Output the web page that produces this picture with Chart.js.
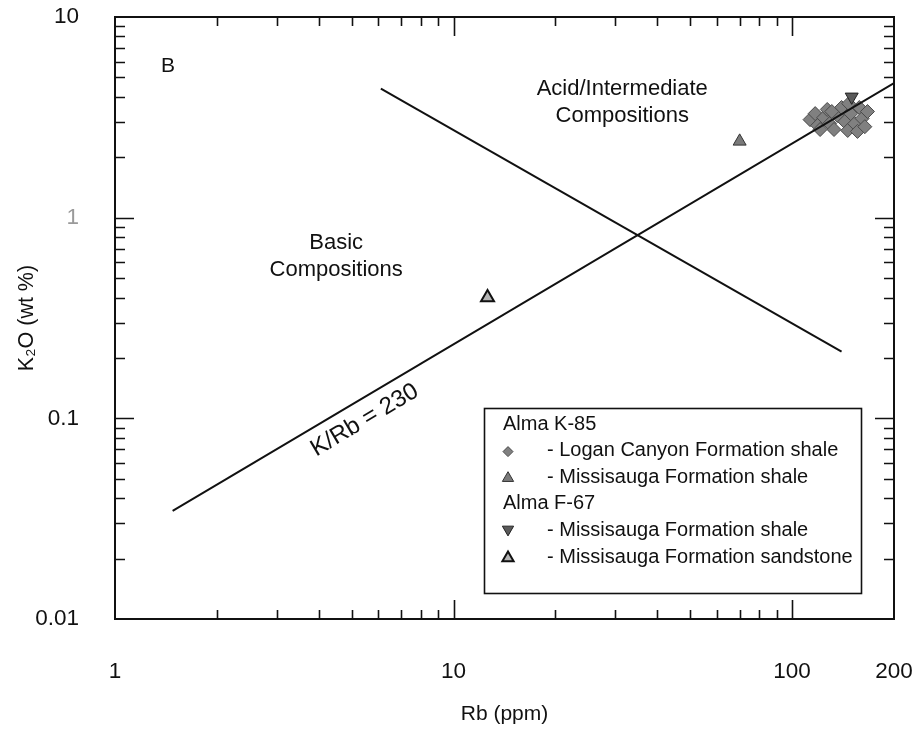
<!DOCTYPE html>
<html>
<head>
<meta charset="utf-8">
<title>K2O vs Rb</title>
<script src="https://cdn.jsdelivr.net/npm/chart.js@4.4.1/dist/chart.umd.min.js"></script>
<style>
  html, body { margin: 0; padding: 0; background: #fff; }
  #wrap { width: 919px; height: 739px; }
</style>
</head>
<body>
<div id="wrap"><canvas id="c" width="919" height="739"></canvas></div>
<script>
// Axis tick labels
const rbTickValues = [1, 10, 100, 200];
const rbTickLabels = ['1', '10', '100', '200'];
const k2oTickValues = [0.01, 0.1, 1, 10];
const k2oTickLabels = ['0.01', '0.1', '1', '10'];

// Alma K-85: Logan Canyon Formation shale
const loganRb  = [113, 117, 119, 124, 127, 129, 133, 136, 140, 143, 146, 149, 153, 156, 158, 161, 164, 167, 147, 131, 121];
const loganK2O = [3.08, 3.30, 2.88, 3.15, 3.46, 2.94, 2.75, 3.23, 3.54, 3.01, 2.72, 3.30, 2.94, 2.69, 3.54, 3.12, 2.84, 3.38, 3.70, 3.38, 2.75];
// Alma K-85: Missisauga Formation shale
const k85ShaleRb  = [70];
const k85ShaleK2O = [2.4];
// Alma F-67: Missisauga Formation shale
const f67ShaleRb  = [150];
const f67ShaleK2O = [4.0];
// Alma F-67: Missisauga Formation sandstone
const f67SandRb  = [12.6];
const f67SandK2O = [0.40];

// Reference lines
const kRbLineRb  = [1.48, 200];
const kRbLineK2O = [0.0346, 4.68];
const dividerRb  = [6.1, 140];
const dividerK2O = [4.4, 0.215];

const toPoints = (xs, ys) => xs.map((x, i) => ({ x: x, y: ys[i] }));

function decadeTicks(min, max) {
  const out = [];
  for (let e = Math.floor(Math.log10(min)); e <= Math.ceil(Math.log10(max)); e++) {
    for (let m = 1; m <= 9; m++) {
      const v = parseFloat((m * Math.pow(10, e)).toPrecision(6));
      if (v >= min * 0.9999 && v <= max * 1.0001) out.push(v);
    }
  }
  return out;
}
const sameVal = (a, b) => Math.abs(Math.log10(a) - Math.log10(b)) < 1e-6;
const isDecade = v => Math.abs(Math.log10(v) - Math.round(Math.log10(v))) < 1e-6;

const FONT = "'Liberation Sans', Arial, Helvetica, sans-serif";
const INK = '#111';

const markerStyles = {
  logan:    { pointStyle: 'rectRot',  rotation: 0,   fill: '#808080', stroke: '#4a4a4a', lw: 1 },
  k85Shale: { pointStyle: 'triangle', rotation: 0,   fill: '#7a7a7a', stroke: '#333',    lw: 1 },
  f67Shale: { pointStyle: 'triangle', rotation: 180, fill: '#5a5a5a', stroke: '#222',    lw: 1 },
  f67Sand:  { pointStyle: 'triangle', rotation: 0,   fill: '#b5b5b5', stroke: '#111',    lw: 2 }
};

// Frame, inward tick marks, text labels and the boxed legend
const decorPlugin = {
  id: 'decor',
  afterDraw(chart) {
    const ctx = chart.ctx;
    const area = chart.chartArea;
    const xs = chart.scales.x, ys = chart.scales.y;

    ctx.save();
    ctx.strokeStyle = INK;
    ctx.lineWidth = 1.6;
    ctx.beginPath();
    xs.ticks.forEach(t => {
      if (sameVal(t.value, xs.min) || sameVal(t.value, xs.max)) return;
      const px = Math.round(xs.getPixelForValue(t.value)) + 0.5;
      const len = isDecade(t.value) ? 19 : 9;
      ctx.moveTo(px, area.bottom); ctx.lineTo(px, area.bottom - len);
      ctx.moveTo(px, area.top);    ctx.lineTo(px, area.top + len);
    });
    ys.ticks.forEach(t => {
      if (sameVal(t.value, ys.min) || sameVal(t.value, ys.max)) return;
      const py = Math.round(ys.getPixelForValue(t.value)) + 0.5;
      const len = isDecade(t.value) ? 19 : 10;
      ctx.moveTo(area.left, py);  ctx.lineTo(area.left + len, py);
      ctx.moveTo(area.right, py); ctx.lineTo(area.right - len, py);
    });
    ctx.stroke();

    ctx.lineWidth = 2;
    ctx.strokeRect(area.left, area.top, area.right - area.left, area.bottom - area.top);

    // Text labels anchored in data space
    ctx.fillStyle = INK;
    ctx.textAlign = 'center';
    ctx.textBaseline = 'middle';
    ctx.font = '21px ' + FONT;
    ctx.fillText('B', xs.getPixelForValue(1.435), ys.getPixelForValue(5.66));

    ctx.font = '22px ' + FONT;
    const ax = xs.getPixelForValue(31.5), ay = ys.getPixelForValue(3.75);
    ctx.fillText('Acid/Intermediate', ax, ay - 13.5);
    ctx.fillText('Compositions', ax, ay + 13.5);

    const bx = xs.getPixelForValue(4.5), by = ys.getPixelForValue(0.64);
    ctx.fillText('Basic', bx, by - 13.5);
    ctx.fillText('Compositions', bx, by + 13.5);

    // Label running along the K/Rb line
    const x1 = xs.getPixelForValue(kRbLineRb[0]), y1 = ys.getPixelForValue(kRbLineK2O[0]);
    const x2 = xs.getPixelForValue(kRbLineRb[1]), y2 = ys.getPixelForValue(kRbLineK2O[1]);
    const ang = Math.atan2(y2 - y1, x2 - x1);
    const lx = xs.getPixelForValue(5.1);
    const ly = y1 + (y2 - y1) * (lx - x1) / (x2 - x1);
    const off = 20;
    ctx.save();
    ctx.translate(lx - Math.sin(ang) * off, ly + Math.cos(ang) * off);
    ctx.rotate(ang);
    ctx.font = '24px ' + FONT;
    ctx.fillText('K/Rb = 230', 0, 0);
    ctx.restore();

    // Legend box
    const L = 484, T = 408, R = 861, B = 593;
    ctx.fillStyle = '#fff';
    ctx.fillRect(L, T, R - L, B - T);
    ctx.lineWidth = 1.6;
    ctx.strokeStyle = INK;
    ctx.strokeRect(L + 0.5, T + 0.5, R - L, B - T);

    const rows = [
      { head: 'Alma K-85' },
      { mk: markerStyles.logan,    r: 5,   text: '- Logan Canyon Formation shale' },
      { mk: markerStyles.k85Shale, r: 6.5, text: '- Missisauga Formation shale' },
      { head: 'Alma F-67' },
      { mk: markerStyles.f67Shale, r: 6.5, text: '- Missisauga Formation shale' },
      { mk: markerStyles.f67Sand,  r: 6.5, text: '- Missisauga Formation sandstone' }
    ];
    ctx.font = '20px ' + FONT;
    ctx.textAlign = 'left';
    rows.forEach((row, i) => {
      const y = T + 16 + i * 26.6;
      if (row.head) {
        ctx.fillStyle = INK;
        ctx.fillText(row.head, L + 19, y);
      } else {
        ctx.fillStyle = row.mk.fill;
        ctx.strokeStyle = row.mk.stroke;
        ctx.lineWidth = row.mk.lw;
        Chart.helpers.drawPoint(ctx, {
          pointStyle: row.mk.pointStyle, rotation: row.mk.rotation,
          radius: row.r, borderWidth: row.mk.lw
        }, L + 24, y + (row.mk.rotation ? -1 : 1));
        ctx.fillStyle = INK;
        ctx.fillText(row.text, L + 63, y);
      }
    });
    ctx.restore();
  }
};

function pointSet(label, xs, ys, st, r) {
  return {
    label: label,
    data: toPoints(xs, ys),
    showLine: false,
    pointStyle: st.pointStyle,
    rotation: st.rotation,
    pointRadius: r,
    backgroundColor: st.fill,
    borderColor: st.stroke,
    borderWidth: st.lw
  };
}

new Chart(document.getElementById('c'), {
  type: 'scatter',
  data: {
    datasets: [
      { label: 'K/Rb = 230', data: toPoints(kRbLineRb, kRbLineK2O), showLine: true,
        borderColor: INK, borderWidth: 2, pointRadius: 0, fill: false },
      { label: 'Divide', data: toPoints(dividerRb, dividerK2O), showLine: true,
        borderColor: INK, borderWidth: 2, pointRadius: 0, fill: false },
      pointSet('Alma F-67 Missisauga Formation shale', f67ShaleRb, f67ShaleK2O, markerStyles.f67Shale, 7.5),
      pointSet('Alma K-85 Missisauga Formation shale', k85ShaleRb, k85ShaleK2O, markerStyles.k85Shale, 7.5),
      pointSet('Alma F-67 Missisauga Formation sandstone', f67SandRb, f67SandK2O, markerStyles.f67Sand, 7.5),
      pointSet('Alma K-85 Logan Canyon Formation shale', loganRb, loganK2O, markerStyles.logan, 7)
    ]
  },
  options: {
    responsive: false,
    animation: false,
    events: [],
    layout: { padding: { top: 17, right: 25, left: 0, bottom: 0 } },
    plugins: { legend: { display: false }, tooltip: { enabled: false } },
    scales: {
      x: {
        type: 'logarithmic',
        min: 1, max: 200,
        afterBuildTicks: s => { s.ticks = decadeTicks(1, 200).map(v => ({ value: v })); },
        afterFit: s => { s.height = 120; s.paddingLeft = 0; s.paddingRight = 0; },
        grid: { display: false, drawTicks: false },
        border: { display: false },
        ticks: {
          autoSkip: false, maxRotation: 0, minRotation: 0, padding: 39,
          color: INK, font: { family: FONT, size: 22.5 },
          callback: v => {
            const i = rbTickValues.findIndex(t => sameVal(t, v));
            return i >= 0 ? rbTickLabels[i] : '';
          }
        },
        title: { display: true, text: 'Rb (ppm)', color: INK,
                 font: { family: FONT, size: 21 }, padding: { top: 0, bottom: 12 } }
      },
      y: {
        type: 'logarithmic',
        min: 0.01, max: 10,
        afterBuildTicks: s => { s.ticks = decadeTicks(0.01, 10).map(v => ({ value: v })); },
        afterFit: s => { s.width = 115; s.paddingTop = 0; s.paddingBottom = 0; },
        grid: { display: false, drawTicks: false },
        border: { display: false },
        ticks: {
          autoSkip: false, padding: 36,
          color: c => (c.tick && sameVal(c.tick.value, 1)) ? '#9a9a9a' : INK,
          font: { family: FONT, size: 22.5 },
          callback: v => {
            const i = k2oTickValues.findIndex(t => sameVal(t, v));
            return i >= 0 ? k2oTickLabels[i] : '';
          }
        },
        title: { display: true, text: 'K\u2082O (wt %)', color: INK,
                 font: { family: FONT, size: 21.5 }, padding: { top: 14, bottom: 0 } }
      }
    }
  },
  plugins: [decorPlugin]
});
</script>
</body>
</html>
